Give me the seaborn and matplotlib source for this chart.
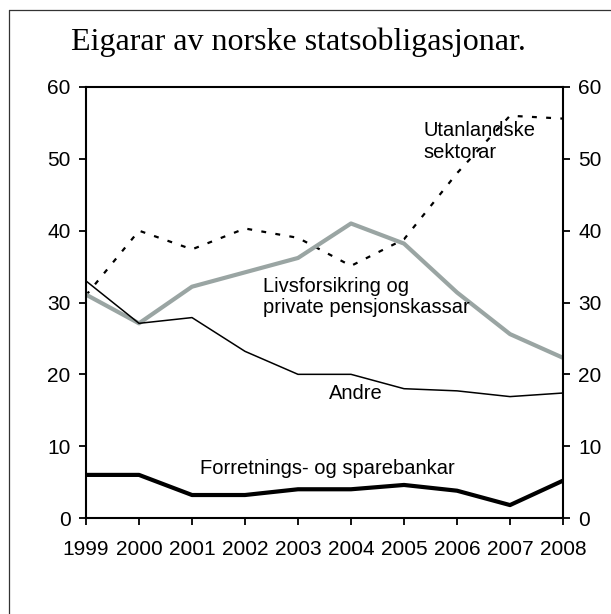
import matplotlib
matplotlib.use("Agg")
import matplotlib.pyplot as plt
import seaborn as sns
import pandas as pd
from matplotlib.lines import Line2D

years = [1999, 2000, 2001, 2002, 2003, 2004, 2005, 2006, 2007, 2008]
utanlandske = [31.0, 40.0, 37.4, 40.3, 39.0, 35.1, 38.8, 48.0, 56.0, 55.6]
livsforsikring = [31.1, 27.1, 32.2, 34.2, 36.2, 41.0, 38.2, 31.4, 25.6, 22.3]
andre = [33.0, 27.1, 27.9, 23.2, 20.0, 20.0, 18.0, 17.7, 16.9, 17.4]
bankar = [6.0, 6.0, 3.2, 3.2, 4.0, 4.0, 4.6, 3.8, 1.8, 5.2]

title = "Eigarar av norske statsobligasjonar."
y_ticks = [0, 10, 20, 30, 40, 50, 60]


def main():
    sns.set_theme(style="white")
    plt.rcParams["font.family"] = ["Liberation Sans", "DejaVu Sans"]
    plt.rcParams["text.color"] = "black"

    df = pd.DataFrame({
        "year": years,
        "utanlandske": utanlandske,
        "livsforsikring": livsforsikring,
        "andre": andre,
        "bankar": bankar,
    })

    fig = plt.figure(figsize=(6.11, 6.14), dpi=100)
    ax = fig.add_axes([86 / 611, 1 - 518 / 614, (563 - 86) / 611, (518 - 87) / 614])

    sns.lineplot(data=df, x="year", y="utanlandske", ax=ax, color="black",
                 linewidth=1.6, linestyle=(0, (2.2, 4.2)))
    sns.lineplot(data=df, x="year", y="livsforsikring", ax=ax, color="#9aa5a3",
                 linewidth=3.0)
    sns.lineplot(data=df, x="year", y="andre", ax=ax, color="black", linewidth=1.1)
    sns.lineplot(data=df, x="year", y="bankar", ax=ax, color="black", linewidth=3.0)

    ax.set_xlim(years[0], years[-1])
    ax.set_ylim(0, 60)
    ax.set_xticks(years)
    ax.set_xticklabels([str(y) for y in years])
    ax.set_yticks(y_ticks)
    ax.set_xlabel("")
    ax.set_ylabel("")

    for side in ["left", "right", "top", "bottom"]:
        ax.spines[side].set_visible(True)
        ax.spines[side].set_color("black")
        ax.spines[side].set_linewidth(1.5)

    ax.tick_params(axis="both", which="major", direction="out", length=5, width=1.3,
                   color="black", labelsize=15, labelcolor="black")
    ax.tick_params(axis="y", left=True, right=True, labelleft=True, labelright=True,
                   pad=6)
    ax.tick_params(axis="x", bottom=True, pad=11)

    ax.text(2005.36, 52.4, "Utanlandske\nsektorar", fontsize=14.5, ha="left",
            va="center", linespacing=1.15)
    ax.text(2002.34, 30.8, "Livsforsikring og\nprivate pensjonskassar", fontsize=14.5,
            ha="left", va="center", linespacing=1.15)
    ax.text(2004.09, 17.4, "Andre", fontsize=14.5, ha="center", va="center")
    ax.text(2003.55, 6.9, "Forretnings- og sparebankar", fontsize=14.5,
            ha="center", va="center")

    fig.text(298.5 / 611, 1 - 42 / 614, title, fontsize=23, ha="center", va="center",
             family=["Liberation Serif", "DejaVu Serif"])

    # frame around the figure (left and top edges visible)
    fig.add_artist(Line2D([8.5 / 611, 8.5 / 611], [0, 1 - 9.5 / 614],
                          color="#333333", linewidth=0.9, transform=fig.transFigure))
    fig.add_artist(Line2D([8.5 / 611, 1], [1 - 9.5 / 614, 1 - 9.5 / 614],
                          color="#333333", linewidth=0.9, transform=fig.transFigure))

    fig.savefig("out.png", dpi=100)
    plt.close(fig)


if __name__ == "__main__":
    main()
